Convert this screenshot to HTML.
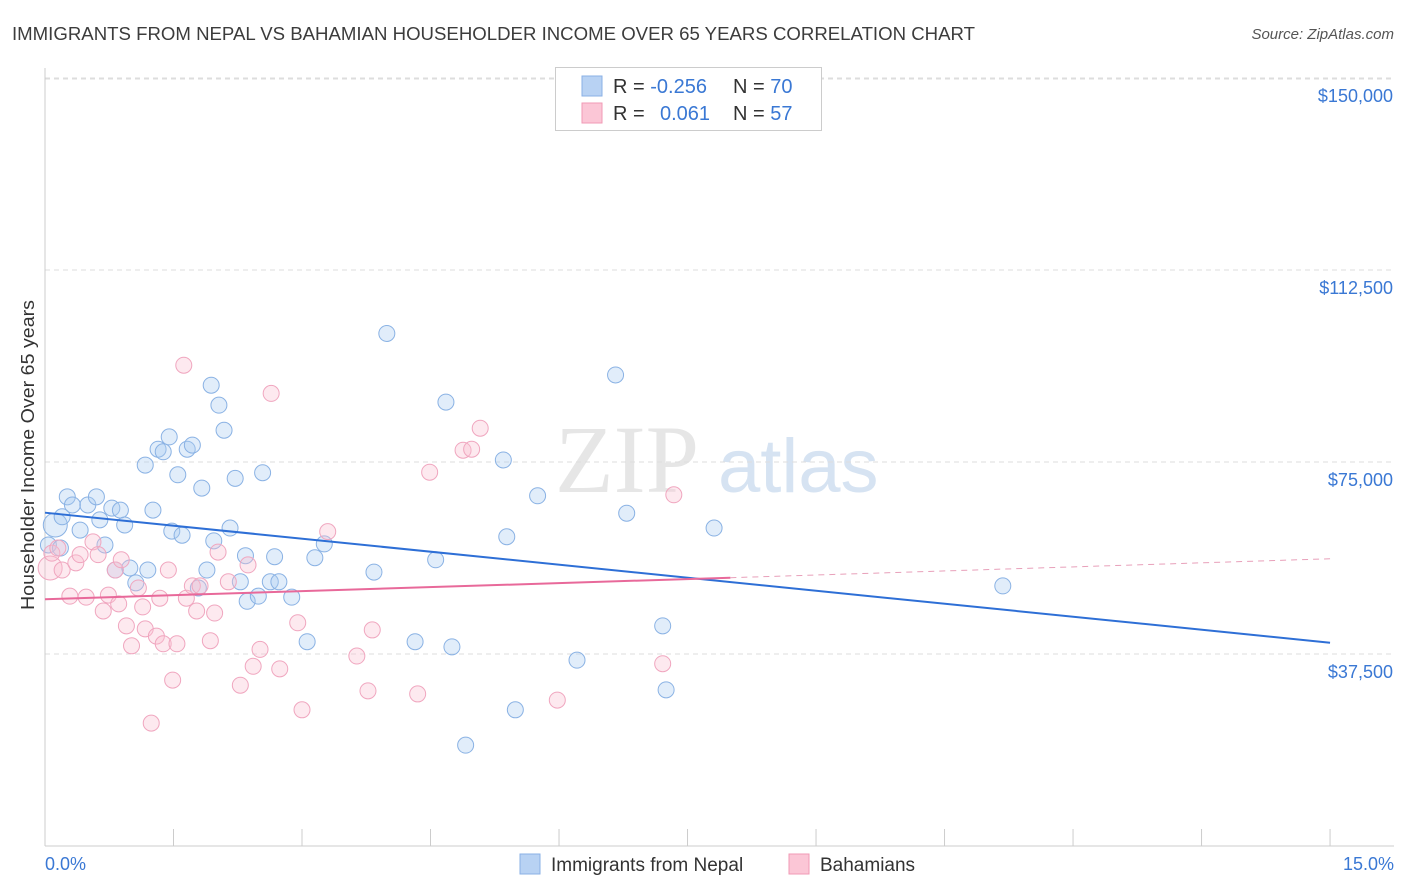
<!DOCTYPE html>
<html><head><meta charset="utf-8"><style>
body{margin:0;background:#fff;font-family:"Liberation Sans",sans-serif;}
svg{display:block}
</style></head><body>
<svg id="c" width="1406" height="892" xmlns="http://www.w3.org/2000/svg">
<text x="12" y="40" font-size="18" fill="#3c3c3c" textLength="963" lengthAdjust="spacingAndGlyphs">IMMIGRANTS FROM NEPAL VS BAHAMIAN HOUSEHOLDER INCOME OVER 65 YEARS CORRELATION CHART</text>
<text x="1394" y="39" font-size="15" fill="#555" font-style="italic" text-anchor="end">Source: ZipAtlas.com</text>
<text x="555" y="492" font-size="96" fill="#e6e6e6" font-family="Liberation Serif">ZIP</text>
<text x="718" y="492" font-size="76" fill="#d6e3f2">atlas</text>
<g id="grid"></g>
<g id="axes"></g>
<g id="pts"></g>
<g id="lines"></g>
<text transform="translate(34,455) rotate(-90)" font-size="18" fill="#333" text-anchor="middle" textLength="310" lengthAdjust="spacingAndGlyphs">Householder Income Over 65 years</text>
<text x="45" y="870" font-size="18" fill="#3a78d4">0.0%</text>
<text x="1394" y="870" font-size="18" fill="#3a78d4" text-anchor="end">15.0%</text>
<g>
<rect x="555.5" y="67.5" width="266" height="63" fill="#fff" stroke="#ccc"/>
<rect x="582" y="76" width="20" height="20" fill="#b8d2f3" stroke="#8ab0e6"/>
<rect x="582" y="103" width="20" height="20" fill="#fbc6d6" stroke="#f09ab5"/>
<text x="613" y="93" font-size="20" fill="#333">R = <tspan fill="#3a78d4">-0.256</tspan><tspan x="733">N = </tspan><tspan fill="#3a78d4">70</tspan></text>
<text x="613" y="120" font-size="20" fill="#333">R = <tspan x="660" fill="#3a78d4">0.061</tspan><tspan x="733">N = </tspan><tspan fill="#3a78d4">57</tspan></text>
</g>
<g>
<rect x="520" y="854" width="20" height="20" fill="#b8d2f3" stroke="#8ab0e6"/>
<text x="551" y="871" font-size="19" fill="#333">Immigrants from Nepal</text>
<rect x="789" y="854" width="20" height="20" fill="#fbc6d6" stroke="#f09ab5"/>
<text x="820" y="871" font-size="19" fill="#333">Bahamians</text>
</g>
</svg>
<script>
const yTicks=[37500,75000,112500,150000];
const yTickLabels=["$37,500","$75,000","$112,500","$150,000"];
const xTicks=[0,1.5,3,4.5,6,7.5,9,10.5,12,13.5,15];
const blueX=[0.12,0.04,0.18,0.26,0.2,0.32,0.41,0.5,0.6,0.64,0.7,0.78,0.88,0.93,0.82,0.99,1.06,1.2,1.26,1.17,1.32,1.38,1.45,1.55,1.48,1.6,1.66,1.72,1.83,1.94,2.03,2.09,2.22,2.16,1.97,1.89,1.79,2.28,2.34,2.36,2.49,2.54,2.63,2.68,2.73,2.88,3.06,3.15,3.26,3.84,3.99,4.32,4.56,4.68,4.75,4.91,5.35,5.39,5.49,5.75,6.21,6.66,6.79,7.21,7.25,7.81,11.18];
const blueY=[62700,58800,58200,68200,64300,66600,61700,66600,68200,63700,58800,66000,65600,62700,53900,54300,51400,53900,65600,74400,77500,77000,79900,72500,61500,60700,77500,78300,69900,90000,86100,81200,71800,62100,59600,53900,50400,51600,56700,47800,48800,72900,51600,56500,51600,48600,39900,56300,59000,53500,100100,39900,55900,86700,38900,19700,75400,60400,26600,68400,36300,92000,65000,43000,30500,62100,50800];
const pinkX=[0.06,0.08,0.15,0.2,0.29,0.36,0.41,0.48,0.56,0.62,0.68,0.74,0.82,0.86,0.89,0.95,1.01,1.09,1.17,1.14,1.24,1.3,1.34,1.38,1.44,1.49,1.54,1.62,1.65,1.72,1.77,1.81,1.93,1.98,2.02,2.14,2.28,2.37,2.43,2.51,2.64,2.74,2.95,3.0,3.3,3.64,3.77,3.82,4.35,4.49,4.88,4.98,5.08,5.98,7.21,7.34];
const pinkY=[54300,57200,58200,53900,48800,55300,56900,48600,59400,56900,45900,49000,53900,47300,55900,43000,39100,50400,42400,46700,24000,41000,48400,39500,53900,32400,39500,93900,48400,50800,45900,50800,40100,45500,57400,51600,31400,54900,35100,38400,88400,34600,43600,26600,61400,37100,30300,42200,29700,73000,77300,77500,81600,28500,35600,68600];
const blueLine=[[0,65100],[15,39700]];
const pinkLine=[[0,48200],[8,52400],[15,56100]];
const X=v=>45+v*85.67, Y=v=>846-v*0.00512;
const NS="http://www.w3.org/2000/svg";
function mk(t,a,p){const e=document.createElementNS(NS,t);for(const k in a)e.setAttribute(k,a[k]);p.appendChild(e);return e;}
const g=document.getElementById('grid'),ax=document.getElementById('axes'),pts=document.getElementById('pts'),ln=document.getElementById('lines');
mk('line',{x1:45,x2:1394,y1:79,y2:79,stroke:'#ddd','stroke-dasharray':'5,4'},g);
yTicks.forEach((v,i)=>{
 const l=mk('line',{x1:45,x2:1394,y1:Y(v),y2:Y(v),stroke:'#ddd','stroke-dasharray':'5,4'},g);
 
 
 const t=mk('text',{x:1393,y:Y(v)+24,'font-size':18,fill:'#3a78d4','text-anchor':'end'},ax);
 t.textContent=yTickLabels[i];
 
 
});
mk('line',{x1:45,x2:45,y1:68,y2:846,stroke:'#ccc'},ax);
mk('line',{x1:45,x2:1394,y1:846,y2:846,stroke:'#ccc'},ax);
xTicks.forEach(v=>{
 const l=mk('line',{x1:X(v),x2:X(v),y1:829,y2:846,stroke:'#ccc'},ax);
 
 
});
blueX.forEach((x,i)=>{
 const c=mk('circle',{cx:X(x),cy:Y(blueY[i]),r:i==0?12:8,fill:'rgba(170,202,242,0.35)',stroke:'#8ab2e4','stroke-width':1},pts);
 
 
});
pinkX.forEach((x,i)=>{
 const c=mk('circle',{cx:X(x),cy:Y(pinkY[i]),r:i==0?12:8,fill:'rgba(250,192,210,0.35)',stroke:'#f0a6bf','stroke-width':1},pts);
 
 
});
const bl=mk('line',{x1:X(blueLine[0][0]),y1:Y(blueLine[0][1]),x2:X(blueLine[1][0]),y2:Y(blueLine[1][1]),stroke:'#2e6fd6','stroke-width':2},ln);


const pl=mk('line',{x1:X(pinkLine[0][0]),y1:Y(pinkLine[0][1]),x2:X(pinkLine[1][0]),y2:Y(pinkLine[1][1]),stroke:'#e8699a','stroke-width':2},ln);


const pd=mk('line',{x1:X(pinkLine[1][0]),y1:Y(pinkLine[1][1]),x2:X(pinkLine[2][0]),y2:Y(pinkLine[2][1]),stroke:'#e8a0ba','stroke-width':1,'stroke-dasharray':'6,5'},ln);


</script>
</body></html>
